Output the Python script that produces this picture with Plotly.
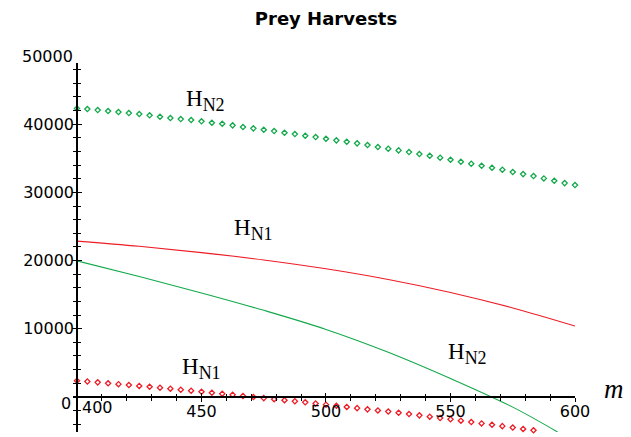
import numpy as np
import plotly.graph_objects as go

# ---- data ----
m_smooth = [400, 425, 450, 475, 500, 525, 550, 575, 600]
HN1_smooth = [22850, 22090, 21170, 20090, 18790, 17220, 15320, 13050, 10400]

m_green_smooth = [400, 425, 450, 475, 500, 525, 550, 575, 593]
HN2_smooth = [19950, 17650, 15250, 12700, 9900, 6550, 2700, -1500, -5150]

# sample positions of the point plots (49 samples over [400, 600])
m_points = np.linspace(400, 600, 49)

HN2_points = [42320, 42220, 42070, 41930, 41780, 41630, 41490, 41300, 41090, 40900,
              40750, 40610, 40420, 40210, 40060, 39830, 39580, 39390, 39180, 38990,
              38740, 38550, 38300, 38110, 37860, 37630, 37420, 37190, 36940, 36650,
              36400, 36160, 35910, 35620, 35370, 35080, 34780, 34490, 34200, 33900,
              33610, 33320, 32980, 32680, 32390, 32050, 31700, 31360, 31070]

HN1_points = [2380, 2260, 2130, 1990, 1870, 1740, 1610, 1480, 1340, 1200,
              1050, 900, 750, 600, 450, 300, 140, -20, -180, -340,
              -490, -640, -800, -970, -1140, -1310, -1480, -1650, -1830, -1990,
              -2150, -2330, -2520, -2710, -2910, -3100, -3280, -3490, -3690, -3890,
              -4090, -4290, -4500, -4700, -4900]

x_ticks = [450, 500, 550, 600]
x_ticktext = ["450", "500", "550", "600"]
x_minor = list(range(400, 601, 10))
y_ticks = [10000, 20000, 30000, 40000]
y_ticktext = ["10000", "20000", "30000", "40000"]
y_minor = list(range(-4000, 49001, 2000))

XR = [398.4, 600]
YR = [-5150, 48980]

RED = "#ee1c25"
GREEN = "#12a94a"

# the page body adds an 8px offset; size the figure to fit the window
OFF = 8
W, H = 631 - OFF, 437 - OFF
L, R, T, B = 73, 575, 63, 432          # plot area in window pixels

fig = go.Figure()
fig.add_trace(go.Scatter(x=m_smooth, y=HN1_smooth, mode="lines",
                         line=dict(color=RED, width=1.1, shape="spline"),
                         showlegend=False))
fig.add_trace(go.Scatter(x=m_green_smooth, y=HN2_smooth, mode="lines",
                         line=dict(color=GREEN, width=1.1, shape="spline"),
                         showlegend=False))
fig.add_trace(go.Scatter(x=m_points, y=HN2_points, mode="markers",
                         marker=dict(symbol="diamond-open", size=4, color=GREEN,
                                     line=dict(width=1.3, color=GREEN)),
                         showlegend=False, cliponaxis=False))
fig.add_trace(go.Scatter(x=m_points[:len(HN1_points)], y=HN1_points, mode="markers",
                         marker=dict(symbol="diamond-open", size=4, color=RED,
                                     line=dict(width=1.3, color=RED)),
                         showlegend=False, cliponaxis=False))

xpos = (0 - YR[0]) / (YR[1] - YR[0])
ypos = (400 - XR[0]) / (XR[1] - XR[0])

tickfont = dict(family="DejaVu Sans", size=16, color="black")

common_x = dict(range=XR, domain=[0, 1], anchor="free", position=xpos,
                showgrid=False, zeroline=False, fixedrange=True, automargin=False)
common_y = dict(range=YR, domain=[0, 1], anchor="free", position=ypos,
                showgrid=False, zeroline=False, fixedrange=True, automargin=False)

fig.update_layout(
    width=W, height=H,
    margin=dict(l=L - OFF, r=W - (R - OFF), t=T - OFF, b=H - (B - OFF), autoexpand=False),
    paper_bgcolor="white", plot_bgcolor="white",
    title=dict(text="<b>Prey Harvests</b>", x=(326 - OFF) / W, xref="container",
               xanchor="center", y=1 - (19 - OFF) / H, yref="container", yanchor="middle",
               automargin=False,
               font=dict(family="DejaVu Sans", size=18, color="black")),
    xaxis=dict(**common_x, showline=True, linecolor="black", linewidth=1.5,
               tickmode="array", tickvals=x_ticks, ticktext=x_ticktext,
               ticks="outside", ticklen=4, tickwidth=1, tickcolor="black",
               tickfont=tickfont, ticklabelstandoff=-4,
               minor=dict(tickmode="array", tickvals=x_minor, ticks="outside",
                          ticklen=3, tickwidth=1, tickcolor="black")),
    yaxis=dict(**common_y, showline=True, linecolor="black", linewidth=1.5,
               tickmode="array", tickvals=y_ticks, ticktext=y_ticktext,
               ticks="outside", ticklen=4, tickwidth=1, tickcolor="black",
               tickfont=tickfont, ticklabelstandoff=-5,
               minor=dict(tickmode="array", tickvals=y_minor, ticks="outside",
                          ticklen=3, tickwidth=1, tickcolor="black")),
    xaxis2=dict(**common_x, overlaying="x", showline=False, showticklabels=False,
                tickmode="array", tickvals=x_ticks,
                ticks="inside", ticklen=4, tickwidth=1, tickcolor="black",
                minor=dict(tickmode="array", tickvals=x_minor, ticks="inside",
                           ticklen=3, tickwidth=1, tickcolor="black")),
    yaxis2=dict(**common_y, overlaying="y", showline=False, showticklabels=False,
                tickmode="array", tickvals=y_ticks,
                ticks="inside", ticklen=4, tickwidth=1, tickcolor="black",
                minor=dict(tickmode="array", tickvals=y_minor, ticks="inside",
                           ticklen=3, tickwidth=1, tickcolor="black")),
)
# empty trace so the overlay axes (crossing tick marks) are drawn
fig.add_trace(go.Scatter(x=[None], y=[None], xaxis="x2", yaxis="y2",
                         showlegend=False, hoverinfo="skip"))

def px(x):
    return (x - L) / (R - L)
def py(y):
    return (B - y) / (B - T)

sub = '<sub><span style="font-size:18px">%s</span></sub>'
lab_font = dict(family="Liberation Serif", size=23, color="black")
annots = [
    dict(text="H" + sub % "N2", x=px(205), y=py(96), yshift=-4, font=lab_font),
    dict(text="H" + sub % "N1", x=px(253), y=py(226), yshift=-4, font=lab_font),
    dict(text="H" + sub % "N1", x=px(201), y=py(364), yshift=-4, font=lab_font),
    dict(text="H" + sub % "N2", x=px(467), y=py(349), yshift=-4, font=lab_font),
    dict(text="<i>m</i>", x=px(614), y=py(389),
         font=dict(family="Liberation Serif", size=27, color="black")),
    dict(text="400", x=px(97), y=py(407), font=tickfont),
    dict(text="0", x=px(66), y=py(403), font=tickfont),
    dict(text="50000", x=px(47), y=py(56.5), font=tickfont),
]
for a in annots:
    fig.add_annotation(xref="paper", yref="paper", showarrow=False,
                       xanchor="center", yanchor="middle", **a)

fig.write_html("out.html")
